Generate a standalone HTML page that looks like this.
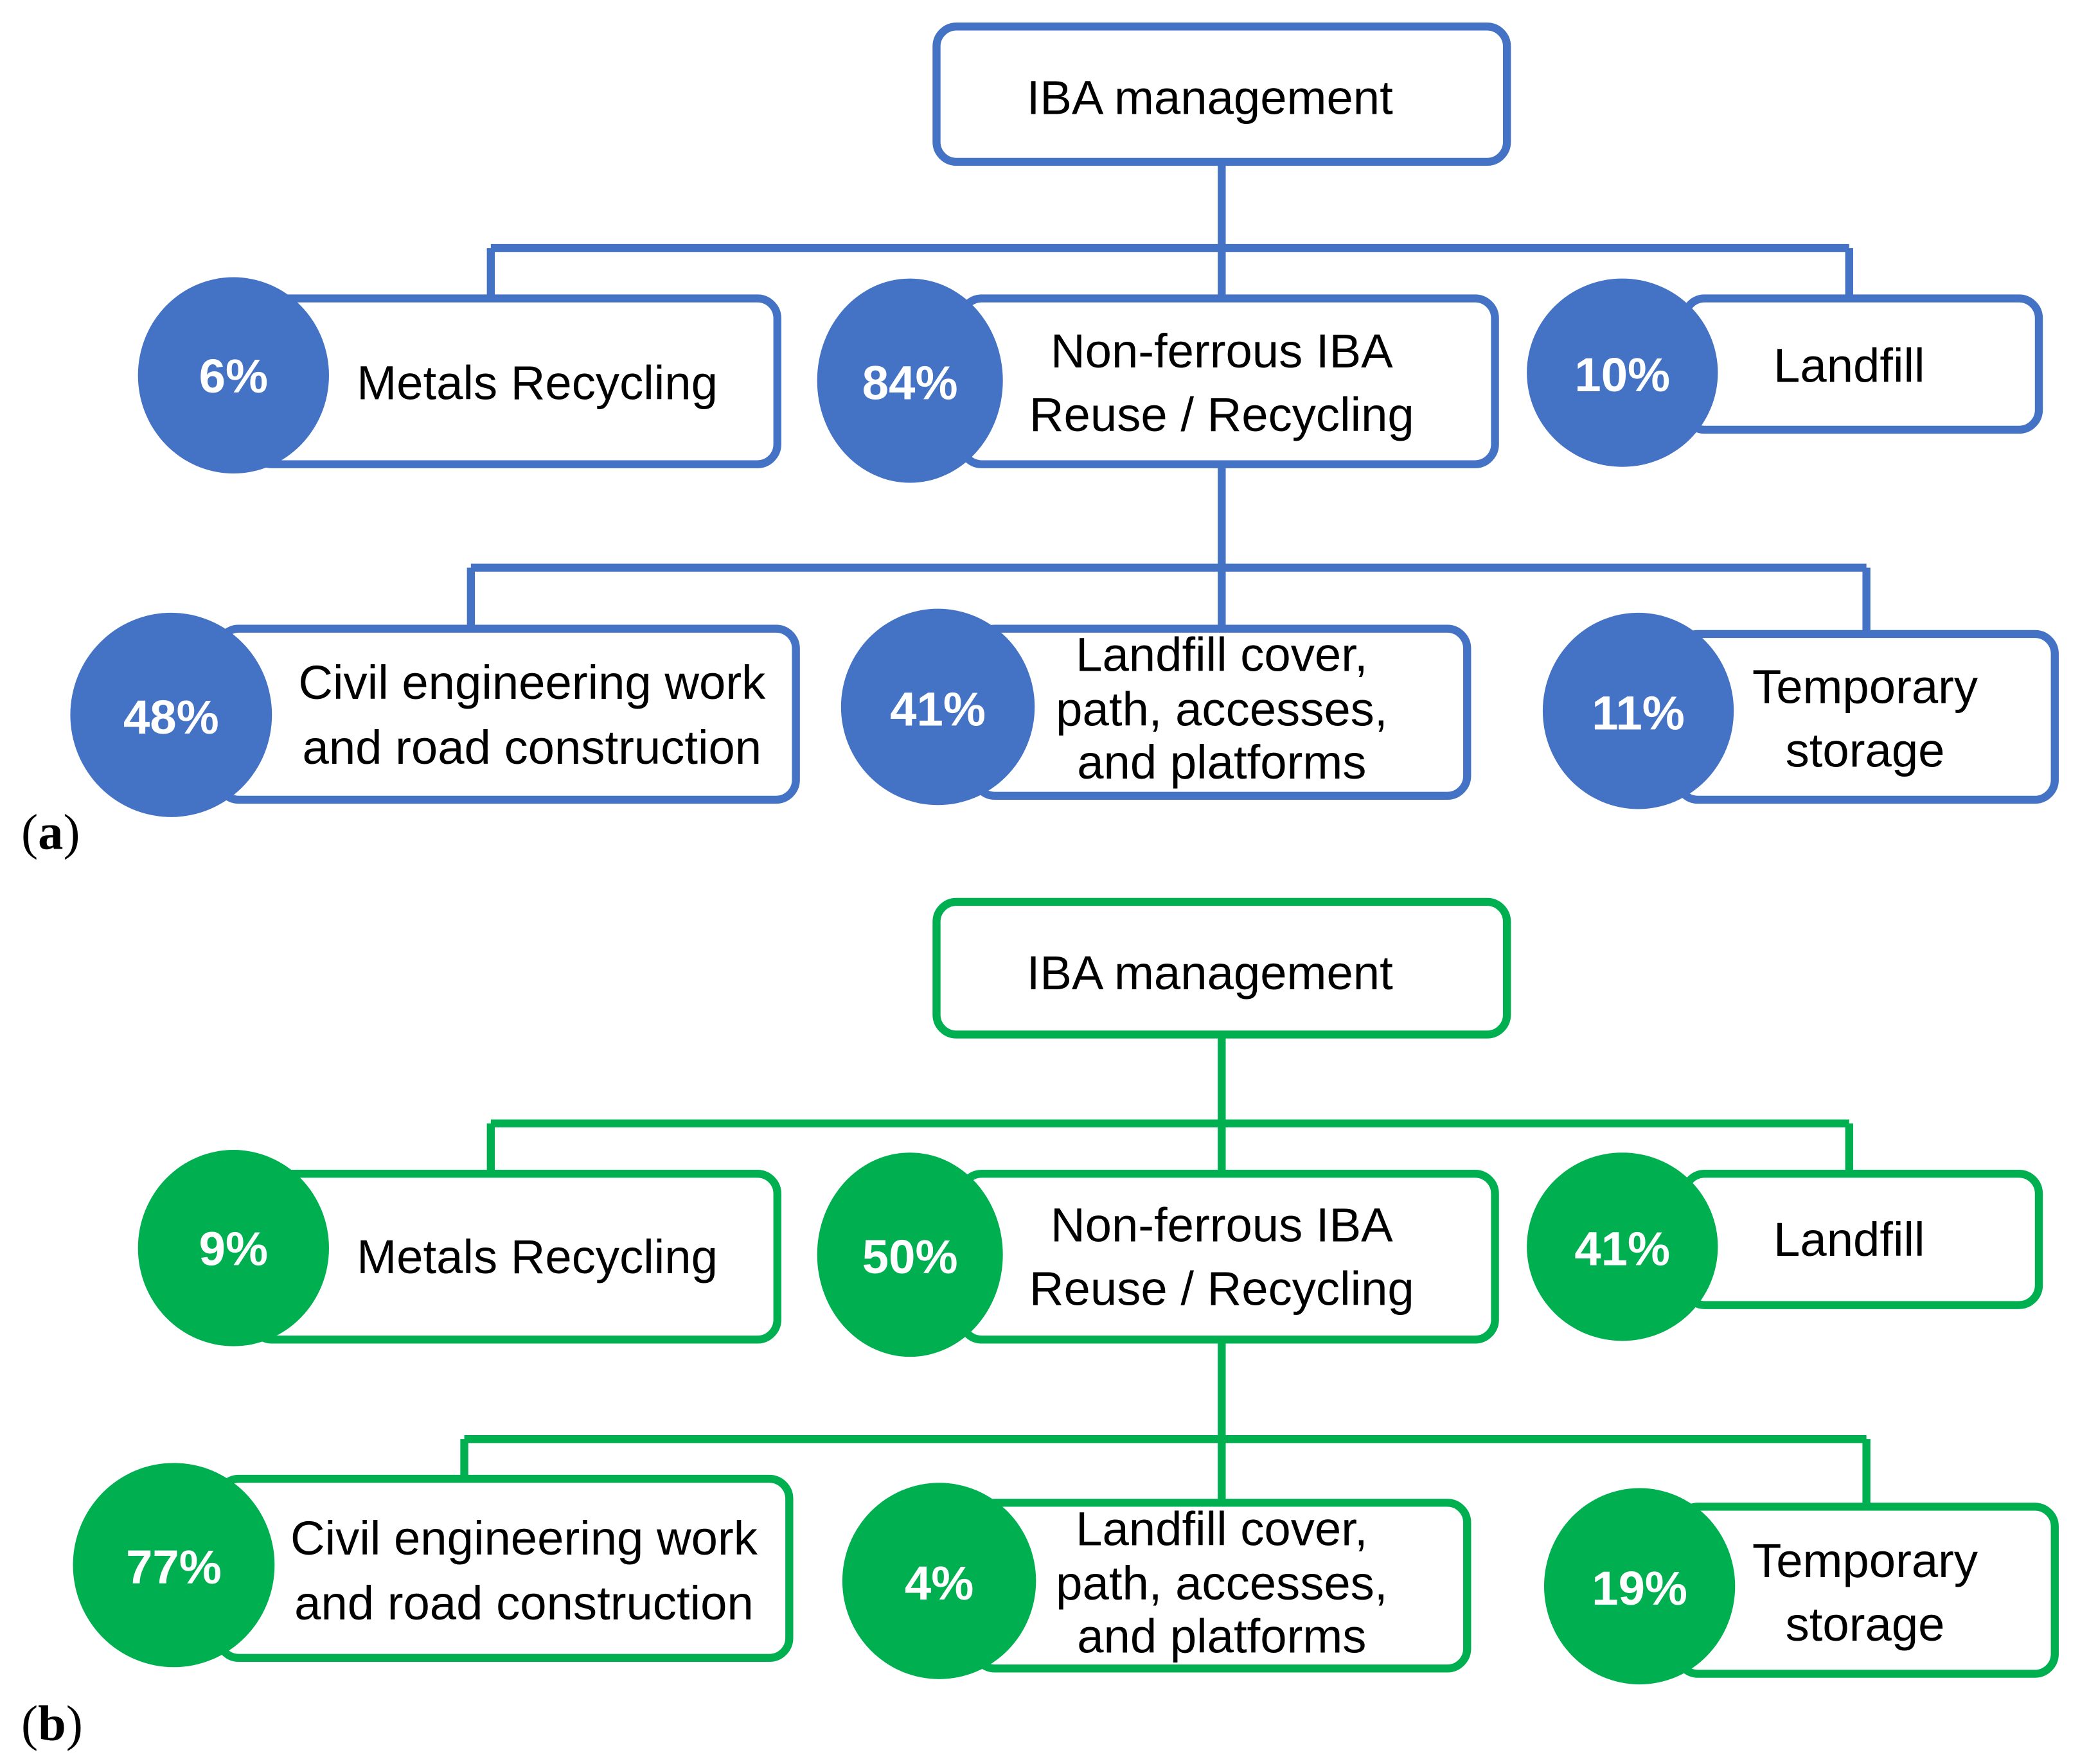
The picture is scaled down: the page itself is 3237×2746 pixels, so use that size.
<!DOCTYPE html>
<html><head><meta charset="utf-8"><style>
html,body{margin:0;padding:0;background:#fff}
svg{display:block}
text{font-family:"Liberation Sans Narrow","Liberation Sans",sans-serif}
.t{font-size:36px;fill:#000;text-anchor:middle}
.p{font-size:36px;fill:#fff;font-weight:bold;text-anchor:middle}
.l{font-family:"Liberation Serif",serif;font-size:38px;fill:#000}
</style></head><body>
<svg width="3237" height="2746" viewBox="0 0 1568 1330" preserveAspectRatio="none" xmlns="http://www.w3.org/2000/svg">
<g stroke="#4472C4" fill="none" stroke-width="6">
<rect x="706" y="20" width="430" height="102" rx="15" fill="#fff"/>
<path d="M921 122V225M370 187H1394M370 187V225M1394 187V225M921 350V474M355 428H1407M355 428V474M1407 428V478"/>
<rect x="190" y="225" width="396" height="125" rx="15" fill="#fff"/>
<rect x="725" y="225" width="402" height="125" rx="15" fill="#fff"/>
<rect x="1270" y="225" width="267" height="99" rx="15" fill="#fff"/>
<rect x="165" y="474" width="435" height="129" rx="15" fill="#fff"/>
<rect x="735" y="474" width="371" height="126" rx="15" fill="#fff"/>
<rect x="1265" y="478" width="284" height="125" rx="15" fill="#fff"/>
</g>
<g fill="#4472C4">
<ellipse cx="176" cy="283" rx="72" ry="74"/>
<ellipse cx="686" cy="287" rx="70" ry="77"/>
<ellipse cx="1223" cy="281" rx="72" ry="71"/>
<ellipse cx="129" cy="539" rx="76" ry="77"/>
<ellipse cx="707" cy="533" rx="73" ry="74"/>
<ellipse cx="1235" cy="536" rx="72" ry="74"/>
</g>
<g>
<text class="t" x="912" y="86">IBA management</text>
<text class="t" x="405" y="301">Metals Recycling</text>
<text class="t" x="921" y="277">Non-ferrous IBA</text>
<text class="t" x="921" y="325">Reuse / Recycling</text>
<text class="t" x="1394" y="288">Landfill</text>
<text class="t" x="401" y="527">Civil engineering work</text>
<text class="t" x="401" y="576">and road construction</text>
<text class="t" x="921" y="506">Landfill cover,</text>
<text class="t" x="921" y="547">path, accesses,</text>
<text class="t" x="921" y="587">and platforms</text>
<text class="t" x="1406" y="530">Temporary</text>
<text class="t" x="1406" y="578">storage</text>
<text class="p" x="176" y="296">6%</text>
<text class="p" x="686" y="301">84%</text>
<text class="p" x="1223" y="295">10%</text>
<text class="p" x="129" y="553">48%</text>
<text class="p" x="707" y="547">41%</text>
<text class="p" x="1235" y="550">11%</text>
<text class="l" x="16" y="640">(<tspan font-weight="bold">a</tspan>)</text>
</g>

<g stroke="#00B050" fill="none" stroke-width="6">
<rect x="706" y="680" width="430" height="100" rx="15" fill="#fff"/>
<path d="M921 780V885M370 847H1394M370 847V885M1394 847V885M921 1010V1133M350 1085H1407M350 1085V1115M1407 1085V1136"/>
<rect x="190" y="885" width="396" height="125" rx="15" fill="#fff"/>
<rect x="725" y="885" width="402" height="125" rx="15" fill="#fff"/>
<rect x="1270" y="885" width="267" height="99" rx="15" fill="#fff"/>
<rect x="165" y="1115" width="430" height="135" rx="15" fill="#fff"/>
<rect x="735" y="1133" width="371" height="125" rx="15" fill="#fff"/>
<rect x="1265" y="1136" width="284" height="126" rx="15" fill="#fff"/>
</g>
<g fill="#00B050">
<ellipse cx="176" cy="941" rx="72" ry="74"/>
<ellipse cx="686" cy="946" rx="70" ry="77"/>
<ellipse cx="1223" cy="940" rx="72" ry="71"/>
<ellipse cx="131" cy="1180" rx="76" ry="77"/>
<ellipse cx="708" cy="1192" rx="73" ry="74"/>
<ellipse cx="1236" cy="1196" rx="72" ry="74"/>
</g>
<g>
<text class="t" x="912" y="746">IBA management</text>
<text class="t" x="405" y="960">Metals Recycling</text>
<text class="t" x="921" y="936">Non-ferrous IBA</text>
<text class="t" x="921" y="984">Reuse / Recycling</text>
<text class="t" x="1394" y="947">Landfill</text>
<text class="t" x="395" y="1172">Civil engineering work</text>
<text class="t" x="395" y="1221">and road construction</text>
<text class="t" x="921" y="1165">Landfill cover,</text>
<text class="t" x="921" y="1206">path, accesses,</text>
<text class="t" x="921" y="1246">and platforms</text>
<text class="t" x="1406" y="1189">Temporary</text>
<text class="t" x="1406" y="1237">storage</text>
<text class="p" x="176" y="954">9%</text>
<text class="p" x="686" y="960">50%</text>
<text class="p" x="1223" y="954">41%</text>
<text class="p" x="131" y="1194">77%</text>
<text class="p" x="708" y="1206">4%</text>
<text class="p" x="1236" y="1210">19%</text>
<text class="l" x="16" y="1312">(<tspan font-weight="bold">b</tspan>)</text>
</g>
</svg>
</body></html>
